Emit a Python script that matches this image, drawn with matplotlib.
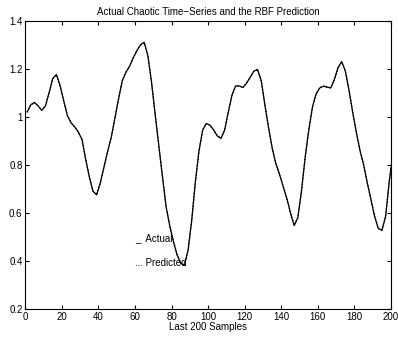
import matplotlib
matplotlib.use("Agg")
import matplotlib.pyplot as plt
import numpy as np

plt.rcParams['font.family'] = ['Liberation Sans', 'DejaVu Sans']

# sample index (every 2nd sample, plus the last one)
samples = list(range(1, 200, 2)) + [200]

actual = [1.02, 1.05, 1.06, 1.045, 1.027, 1.045, 1.10, 1.16, 1.176, 1.13,
          1.067, 1.005, 0.975, 0.958, 0.937, 0.905, 0.823, 0.75, 0.69, 0.675,
          0.725, 0.79, 0.855, 0.915, 0.995, 1.075, 1.15, 1.185, 1.21, 1.245,
          1.275, 1.30, 1.31, 1.255, 1.145, 1.01, 0.88, 0.75, 0.625, 0.545,
          0.48, 0.425, 0.39, 0.382, 0.445, 0.57, 0.73, 0.86, 0.945, 0.972,
          0.965, 0.945, 0.92, 0.91, 0.945, 1.02, 1.09, 1.128, 1.128, 1.122,
          1.14, 1.165, 1.19, 1.197, 1.15, 1.05, 0.955, 0.87, 0.805, 0.76,
          0.71, 0.66, 0.60, 0.547, 0.58, 0.69, 0.83, 0.945, 1.04, 1.095,
          1.12, 1.127, 1.124, 1.12, 1.155, 1.205, 1.23, 1.19, 1.11, 1.02,
          0.935, 0.86, 0.80, 0.725, 0.655, 0.585, 0.535, 0.527, 0.585, 0.73,
          0.79]

predicted = [1.02, 1.05, 1.058, 1.046, 1.028, 1.046, 1.10, 1.158, 1.175, 1.13,
             1.066, 1.006, 0.976, 0.957, 0.936, 0.905, 0.824, 0.75, 0.691, 0.676,
             0.724, 0.79, 0.856, 0.915, 0.994, 1.075, 1.149, 1.186, 1.21, 1.246,
             1.275, 1.299, 1.309, 1.256, 1.145, 1.011, 0.879, 0.751, 0.624, 0.546,
             0.482, 0.427, 0.393, 0.386, 0.443, 0.57, 0.731, 0.859, 0.946, 0.972,
             0.964, 0.945, 0.921, 0.911, 0.944, 1.02, 1.089, 1.129, 1.13, 1.121,
             1.141, 1.166, 1.19, 1.196, 1.151, 1.05, 0.956, 0.869, 0.806, 0.76,
             0.711, 0.659, 0.601, 0.549, 0.579, 0.69, 0.829, 0.946, 1.039, 1.096,
             1.121, 1.128, 1.122, 1.121, 1.154, 1.204, 1.228, 1.19, 1.111, 1.019,
             0.936, 0.859, 0.801, 0.724, 0.656, 0.586, 0.537, 0.53, 0.584, 0.73,
             0.79]

xticks = list(range(0, 201, 20))
yticks = [0.2, 0.4, 0.6, 0.8, 1.0, 1.2, 1.4]
ytick_labels = ['0.2', '0.4', '0.6', '0.8', '1', '1.2', '1.4']

fig = plt.figure(figsize=(3.98, 3.38), dpi=100)
ax = fig.add_axes([0.0636, 0.0858, 0.919, 0.853])

ax.plot(samples, actual, color='black', lw=0.9, solid_joinstyle='round')
ax.plot(samples, predicted, color='black', lw=0.9, ls=(0, (1, 1.5)))

ax.set_xlim(0, 200)
ax.set_ylim(0.2, 1.4)
ax.set_xticks(xticks)
ax.set_yticks(yticks)
ax.set_yticklabels(ytick_labels)
ax.tick_params(direction='in', top=True, right=True, length=3, width=0.8,
               labelsize=7, pad=2)
for s in ax.spines.values():
    s.set_linewidth(0.8)

ax.set_title('Actual Chaotic Time\u2212Series and the RBF Prediction',
             fontsize=7, pad=4)
ax.set_xlabel('Last 200 Samples', fontsize=7, labelpad=0)

# matlab style legend, no box
ax.text(0.30, 0.246, '_  Actual', transform=ax.transAxes, fontsize=7,
        va='center', ha='left')
ax.text(0.30, 0.16, '... Predicted', transform=ax.transAxes, fontsize=7,
        va='center', ha='left')

fig.savefig('out.png', dpi=100)
